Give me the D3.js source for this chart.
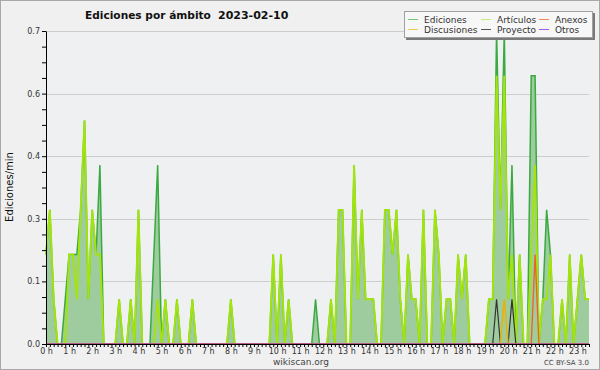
<!DOCTYPE html>
<html>
<head>
<meta charset="utf-8">
<script src="https://cdn.jsdelivr.net/npm/d3@7/dist/d3.min.js"></script>
<style>
  body { margin: 0; background: #fff; }
  svg text { font-family: "DejaVu Sans", sans-serif; }
</style>
</head>
<body>
<svg id="chart" width="600" height="370"></svg>
<script>
// edits per minute, one value per 10 minute bin, 00:00 .. 23:30
// (one row per hour)
var ediciones = [
  0.2, 0.3, 0.1, 0, 0, 0.1,
  0.2, 0.2, 0.2, 0.3, 0.5, 0.1,
  0.3, 0.2, 0.4, 0, 0, 0,
  0, 0.1, 0, 0, 0.1, 0,
  0.3, 0, 0, 0, 0.2, 0.4,
  0, 0.1, 0, 0, 0.1, 0,
  0, 0, 0.1, 0, 0, 0,
  0, 0, 0, 0, 0, 0,
  0.1, 0, 0, 0, 0, 0,
  0, 0, 0, 0, 0, 0.2,
  0, 0.2, 0, 0.1, 0, 0,
  0, 0, 0, 0, 0.1, 0,
  0, 0, 0.1, 0, 0.3, 0.3,
  0, 0, 0.4, 0.1, 0.3, 0.1,
  0.1, 0.1, 0, 0, 0.3, 0.3,
  0.2, 0.3, 0.1, 0, 0.2, 0.1,
  0.1, 0, 0.3, 0, 0, 0.3,
  0.2, 0, 0.1, 0.1, 0, 0.2,
  0.1, 0.2, 0, 0, 0, 0,
  0, 0.1, 0.1, 0.7, 0.3, 0.7,
  0.1, 0.4, 0, 0.2, 0, 0,
  0.6, 0.6, 0, 0.1, 0.3, 0.2,
  0, 0, 0.1, 0, 0.2, 0,
  0.1, 0.2, 0.1, 0.1
];

var articulos = [
  0.2, 0.3, 0.1, 0, 0, 0,
  0.2, 0.2, 0.1, 0.3, 0.5, 0.1,
  0.3, 0.2, 0.2, 0, 0, 0,
  0, 0.1, 0, 0, 0.1, 0,
  0.3, 0, 0, 0, 0, 0.1,
  0, 0.1, 0, 0, 0.1, 0,
  0, 0, 0.1, 0, 0, 0,
  0, 0, 0, 0, 0, 0,
  0.1, 0, 0, 0, 0, 0,
  0, 0, 0, 0, 0, 0.2,
  0, 0.2, 0, 0.1, 0, 0,
  0, 0, 0, 0, 0, 0,
  0, 0, 0.1, 0, 0.3, 0.3,
  0, 0, 0.4, 0.1, 0.3, 0.1,
  0.1, 0.1, 0, 0, 0.3, 0.3,
  0.2, 0.3, 0.1, 0, 0.2, 0.1,
  0.1, 0, 0.3, 0, 0, 0.3,
  0.2, 0, 0.1, 0.1, 0, 0.2,
  0.1, 0.2, 0, 0, 0, 0,
  0, 0.1, 0.1, 0.6, 0.3, 0.6,
  0.1, 0.2, 0, 0.2, 0, 0,
  0.2, 0.4, 0, 0.1, 0.1, 0.2,
  0, 0, 0.1, 0, 0.2, 0,
  0.1, 0.2, 0.1, 0.1
];

// the small namespaces, four hours per row
var anexos = [
  0, 0, 0, 0, 0, 0,   0, 0, 0, 0, 0, 0,   0, 0, 0, 0, 0, 0,   0, 0, 0, 0, 0, 0,
  0, 0, 0, 0, 0, 0,   0, 0, 0, 0, 0, 0,   0, 0, 0, 0, 0, 0,   0, 0, 0, 0, 0, 0,
  0, 0, 0, 0, 0, 0,   0, 0, 0, 0, 0, 0,   0, 0, 0, 0, 0, 0,   0, 0, 0, 0, 0, 0,
  0, 0, 0, 0, 0, 0,   0, 0, 0, 0, 0, 0,   0, 0, 0, 0, 0, 0,   0, 0, 0, 0, 0, 0,
  0, 0, 0, 0, 0, 0,   0, 0, 0, 0, 0, 0,   0, 0, 0, 0, 0, 0,   0, 0, 0, 0, 0, 0,
  0, 0, 0, 0, 0, 0,   0, 0.2, 0, 0, 0, 0, 0, 0, 0, 0, 0, 0,   0, 0, 0, 0
];

var discusiones = [
  0, 0, 0, 0, 0, 0,   0, 0, 0, 0, 0, 0,   0, 0, 0, 0, 0, 0,   0, 0, 0, 0, 0, 0,
  0, 0, 0, 0, 0, 0,   0, 0, 0, 0, 0, 0,   0, 0, 0, 0, 0, 0,   0, 0, 0, 0, 0, 0,
  0, 0, 0, 0, 0, 0,   0, 0, 0, 0, 0, 0,   0, 0, 0, 0, 0, 0,   0, 0, 0, 0, 0, 0,
  0, 0, 0, 0, 0, 0,   0, 0, 0, 0, 0, 0,   0, 0, 0, 0, 0, 0,   0, 0, 0, 0, 0, 0,
  0, 0, 0, 0, 0, 0,   0, 0, 0, 0, 0, 0,   0, 0, 0, 0, 0, 0,   0, 0, 0, 0, 0, 0.1,
  0, 0, 0, 0, 0, 0,   0, 0, 0, 0, 0, 0,   0, 0, 0, 0, 0, 0,   0, 0, 0, 0
];

var proyecto = [
  0, 0, 0, 0, 0, 0,   0, 0, 0, 0, 0, 0,   0, 0, 0, 0, 0, 0,   0, 0, 0, 0, 0, 0,
  0, 0, 0, 0, 0, 0,   0, 0, 0, 0, 0, 0,   0, 0, 0, 0, 0, 0,   0, 0, 0, 0, 0, 0,
  0, 0, 0, 0, 0, 0,   0, 0, 0, 0, 0, 0,   0, 0, 0, 0, 0, 0,   0, 0, 0, 0, 0, 0,
  0, 0, 0, 0, 0, 0,   0, 0, 0, 0, 0, 0,   0, 0, 0, 0, 0, 0,   0, 0, 0, 0, 0, 0,
  0, 0, 0, 0, 0, 0,   0, 0, 0, 0, 0, 0,   0, 0, 0, 0, 0, 0,   0, 0, 0, 0.1, 0, 0,
  0, 0.1, 0, 0, 0, 0, 0, 0, 0, 0, 0, 0,   0, 0, 0, 0, 0, 0,   0, 0, 0, 0
];

var otros = [
  0, 0, 0, 0, 0, 0,   0, 0, 0, 0, 0, 0,   0, 0, 0, 0, 0, 0,   0, 0, 0, 0, 0, 0,
  0, 0, 0, 0, 0, 0,   0, 0, 0, 0, 0, 0,   0, 0, 0, 0, 0, 0,   0, 0, 0, 0, 0, 0,
  0, 0, 0, 0, 0, 0,   0, 0, 0, 0, 0, 0,   0, 0, 0, 0, 0, 0,   0, 0, 0, 0, 0, 0,
  0, 0, 0, 0, 0, 0,   0, 0, 0, 0, 0, 0,   0, 0, 0, 0, 0, 0,   0, 0, 0, 0, 0, 0,
  0, 0, 0, 0, 0, 0,   0, 0, 0, 0, 0, 0,   0, 0, 0, 0, 0, 0,   0, 0, 0, 0, 0, 0,
  0, 0, 0, 0, 0, 0,   0, 0, 0, 0, 0, 0,   0, 0, 0, 0, 0, 0,   0, 0, 0, 0
];

var hourLabels = ["0 h", "1 h", "2 h", "3 h", "4 h", "5 h", "6 h", "7 h",
  "8 h", "9 h", "10 h", "11 h", "12 h", "13 h", "14 h", "15 h",
  "16 h", "17 h", "18 h", "19 h", "20 h", "21 h", "22 h", "23 h"];
var yTickValues = [0, 0.14, 0.28, 0.42, 0.56, 0.7];
var yTickLabels = ["0.0", "0.1", "0.3", "0.4", "0.6", "0.7"];

var legendNames = ["Ediciones", "Artículos", "Anexos", "Discusiones", "Proyecto", "Otros"];
var legendColors = ["#74c874", "#c4ec70", "#f08a58", "#f0cc50", "#555555", "#9a5cee"];

var binMinutes = 10;

// ---- setup
var svg = d3.select("#chart");
var W = 600, H = 370;
// plot box (note: "top" is taken by window.top)
var pL = 46, pR = 589, pT = 31, pB = 344;

var x = d3.scaleLinear().domain([0, (ediciones.length - 1) * binMinutes]).range([pL, pR]);
var y = d3.scaleLinear().domain([0, 0.7]).range([pB, pT]);

// background + frame
svg.append("rect").attr("x", 0.5).attr("y", 0.5).attr("width", W - 1).attr("height", H - 1)
  .attr("fill", "#f0f0f0").attr("stroke", "#a8a8a8");
svg.append("rect").attr("x", pL).attr("y", pT).attr("width", pR - pL).attr("height", pB - pT)
  .attr("fill", "#eef0f2");

// grid
svg.append("g").selectAll("line").data(yTickValues.slice(1)).enter().append("line")
  .attr("x1", pL).attr("x2", pR)
  .attr("y1", function(d){ return Math.round(y(d)) + 0.5; })
  .attr("y2", function(d){ return Math.round(y(d)) + 0.5; })
  .attr("stroke", "#cdcdcd");

// area + lines
var xi = function(d, i){ return x(i * binMinutes); };
var area = d3.area().x(xi).y0(y(0)).y1(function(d){ return y(d); });
var line = d3.line().x(xi).y(function(d){ return y(d); });

svg.append("path").datum(ediciones).attr("d", area).attr("fill", "#9fcc9f");

var series = [
  { v: ediciones, c: "#3aaa40", w: 1.5 },
  { v: articulos, c: "#a2e40c", w: 1.9 },
  { v: proyecto, c: "#333333", w: 1.2 },
  { v: discusiones, c: "#f0b000", w: 1.5 },
  { v: anexos, c: "#f06020", w: 1.3 },
  { v: otros, c: "#8844ee", w: 1.2 }
];
series.forEach(function(s){
  svg.append("path").datum(s.v).attr("d", line)
    .attr("fill", "none").attr("stroke", s.c).attr("stroke-width", s.w)
    .attr("stroke-linejoin", "miter");
});

// axes
var minorX = d3.range(ediciones.length).map(function(i){ return i * binMinutes; });
svg.append("g").attr("transform", "translate(0," + pB + ")")
  .call(d3.axisBottom(x).tickValues(minorX).tickSize(3).tickSizeOuter(0).tickFormat(""));
var xLab = svg.append("g").attr("transform", "translate(0," + pB + ")")
  .call(d3.axisBottom(x).tickValues(hourLabels.map(function(d, h){ return h * 60; }))
    .tickSize(0).tickPadding(4).tickFormat(function(d, i){ return hourLabels[i]; }));
xLab.select(".domain").remove();

var minorY = d3.range(21).map(function(k){ return k * 0.035; });
svg.append("g").attr("transform", "translate(" + pL + ",0)")
  .call(d3.axisLeft(y).tickValues(minorY).tickSize(4).tickSizeOuter(0).tickFormat(""));
var yLab = svg.append("g").attr("transform", "translate(" + pL + ",0)")
  .call(d3.axisLeft(y).tickValues(yTickValues).tickSize(0).tickPadding(6)
    .tickFormat(function(d, i){ return yTickLabels[i]; }));
yLab.select(".domain").remove();

svg.selectAll(".tick text").attr("font-family", "DejaVu Sans").attr("font-size", 8).attr("fill", "#333");
svg.selectAll(".domain").attr("stroke", "#000");
svg.selectAll(".tick line").attr("stroke", "#000");

// y title
svg.append("text").attr("transform", "translate(13,187) rotate(-90)")
  .attr("text-anchor", "middle").attr("font-family", "DejaVu Sans Mono").attr("font-size", 10)
  .attr("fill", "#111").text("Ediciones/min");

// title
svg.append("text").attr("x", 85).attr("y", 19).attr("font-weight", "bold").attr("font-size", 10.6)
  .attr("fill", "#111").text("Ediciones por ámbito");
svg.append("text").attr("x", 218).attr("y", 19).attr("font-weight", "bold").attr("font-size", 11)
  .attr("fill", "#111").text("2023-02-10");

// footer
svg.append("text").attr("x", 301).attr("y", 365).attr("text-anchor", "middle")
  .attr("font-size", 9).attr("fill", "#444").text("wikiscan.org");
svg.append("text").attr("x", 589).attr("y", 365).attr("text-anchor", "end")
  .attr("font-size", 7).attr("fill", "#444").text("CC BY-SA 3.0");

// legend
var lg = svg.append("g");
lg.append("rect").attr("x", 406).attr("y", 13).attr("width", 189).attr("height", 27).attr("fill", "#7a7a7a");
lg.append("rect").attr("x", 404.5).attr("y", 11.5).attr("width", 188).attr("height", 26)
  .attr("fill", "#f7f7f7").attr("stroke", "#a0a0a0");
var colX = [408, 481, 539];
var rowY = [19.5, 29.5];
legendNames.forEach(function(name, i){
  var cx = colX[i % 3], cy = rowY[Math.floor(i / 3)];
  lg.append("line").attr("x1", cx).attr("x2", cx + 10).attr("y1", cy).attr("y2", cy)
    .attr("stroke", legendColors[i]).attr("stroke-width", 1);
  lg.append("text").attr("x", cx + 16).attr("y", cy + 3.2).attr("font-size", 9)
    .attr("fill", "#333").text(name);
});
</script>
</body>
</html>
